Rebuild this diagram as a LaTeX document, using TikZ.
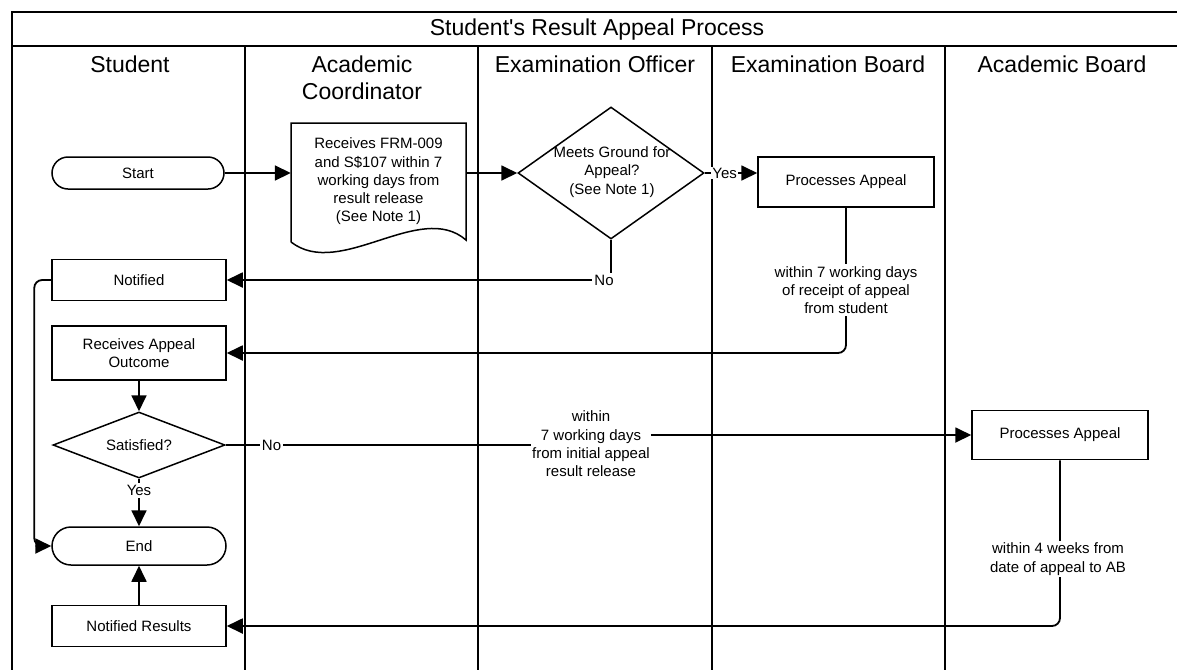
\documentclass[tikz,border=0pt]{standalone}
\usepackage{fontspec}
\setmainfont{Liberation Sans}
\newfontfamily\plainsans{Liberation Sans}
\usetikzlibrary{arrows.meta,shapes.geometric,shapes.misc}
\newcommand\bodyfont{\fontsize{15}{18.3}\selectfont}
\newcommand\headfont{\fontsize{23}{27}\selectfont}
\begin{document}
\begin{tikzpicture}[x=1pt,y=-1pt,
  lane/.style={line width=2pt},
  shp/.style={draw, line width=1.5pt, inner sep=0pt, align=center, font=\bodyfont},
  box/.style={shp, rectangle, minimum width=174pt, minimum height=41pt},
  pill/.style={shp, rounded rectangle, minimum width=174pt, minimum height=36pt},
  dmd/.style={shp, diamond},
  conn/.style={line width=1.8pt, -{Triangle[length=16pt,width=15pt]}},
  plain/.style={line width=1.8pt},
  lbl/.style={font=\bodyfont, fill=white, inner sep=2pt, align=center}]
\useasboundingbox (0,0) rectangle (1177,670);
\fill[white] (0,0) rectangle (1177,670);
% frame and lanes
\draw[lane] (1177,12) -- (12,12) -- (12,670);
\draw[lane] (12,46) -- (1177,46);
\foreach \x in {245,478,712,945} \draw[lane] (\x,46) -- (\x,670);
% headers
\node[font=\headfont\plainsans] (title) at (597,30) {Student's Result Appeal Process};
\node[font=\headfont] (hS) at (130,64) {Student};
\node[font=\headfont, align=center] (hAC) at (362,78) {Academic\\Coordinator};
\node[font=\headfont] (hEO) at (595,64) {Examination Officer};
\node[font=\headfont] (hEB) at (828,64) {Examination Board};
\node[font=\headfont] (hAB) at (1062,64) {Academic Board};
% student lane
\node[pill, minimum height=32pt, minimum width=172pt] (start) at (138,173) {Start};
\node[box] (notif) at (139,280) {Notified};
\node[box, minimum height=54pt] (rao) at (139,353) {Receives Appeal\\Outcome};
\node[dmd, minimum width=172pt, minimum height=66pt] (sat) at (139,445) {};
\node[font=\bodyfont] (satt) at (139,445) {Satisfied?};
\node[pill, minimum height=38pt] (end) at (139,546) {End};
\node[box] (nres) at (139,626) {Notified Results};
% academic coordinator document
\node[inner sep=0pt, minimum width=175pt, minimum height=117pt, align=center, font=\bodyfont] (doc) at (378.5,181.5)
  {Receives FRM-009\\and S\$107 within 7\\working days from\\result release\\(See Note 1)};
\draw[line width=1.5pt, line join=miter] (291,242) -- (291,123) -- (466,123) -- (466,240)
  .. controls (420,200) and (340,280) .. (291,242);
% examination officer diamond
\node[dmd, minimum width=186pt, minimum height=132pt] (dia) at (611,173) {};
\node[font=\bodyfont, align=center] (diat) at (612,172) {Meets Ground for\\Appeal?\\(See Note 1)};
% boards
\node[box, minimum width=176pt, minimum height=50pt] (ebp) at (846,182) {Processes Appeal};
\node[box, minimum width=176pt, minimum height=49pt] (abp) at (1060,435) {Processes Appeal};
% connectors
\draw[conn] (start.east) -- (doc.west |- start.east);
\draw[conn] (doc.east |- start.east) -- (dia.west);
\draw[conn] (dia.east) -- node[lbl, pos=0.38, inner sep=1pt] (yes1) {Yes} (ebp.west |- dia.east);
\draw[conn] (dia.south) |- node[lbl, pos=0.5, xshift=-7pt] (no1) {No} (notif.east);
\draw[conn, rounded corners=8pt] (ebp.south) |- (rao.east);
\node[lbl] (l1) at (846,290) {within 7 working days\\of receipt of appeal\\from student};
\draw[conn, rounded corners=8pt] (notif.west) -- ++(-17,0) |- (end.west);
\draw[conn] (rao.south) -- (sat.north);
\draw[conn] (sat.south) -- node[lbl, pos=0.25] (yes2) {Yes} (end.north);
\draw[conn] (nres.north) -- (end.south);
\node[lbl, inner sep=1pt] (l3) at (591,444) {within\\7 working days\\from initial appeal\\result release};
\draw[plain] (sat.east) -- node[lbl, pos=0.15] (no2) {No} (sat.east -| l3.west);
\draw[conn] (l3.east |- abp.west) -- (abp.west);
\draw[conn, rounded corners=8pt] (abp.south) |- (nres.east);
\node[lbl] (l2) at (1058,559) {within 4 weeks from\\date of appeal to AB};
\end{tikzpicture}
\end{document}
